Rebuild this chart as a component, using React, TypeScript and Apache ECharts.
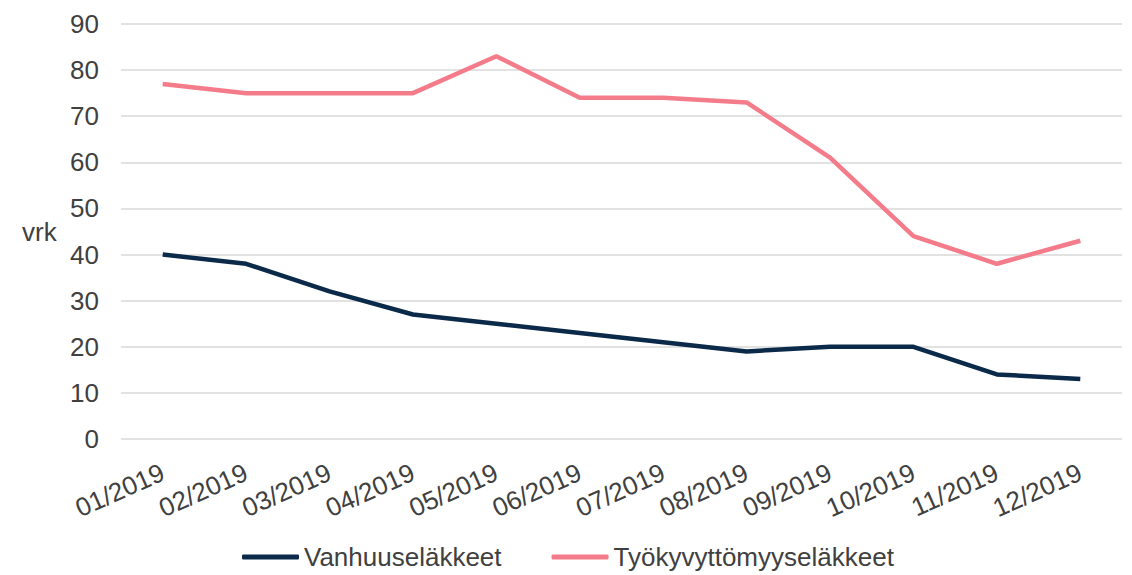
import React, { useEffect, useRef } from "react";
import * as echarts from "echarts";

const categories = ["01/2019", "02/2019", "03/2019", "04/2019", "05/2019", "06/2019", "07/2019", "08/2019", "09/2019", "10/2019", "11/2019", "12/2019"];
const vanhuus = [40, 38, 32, 27, 25, 23, 21, 19, 20, 20, 14, 13];
const tyokyvyttomyys = [77, 75, 75, 75, 83, 74, 74, 73, 61, 44, 38, 43];
const yTicks = { min: 0, max: 90, interval: 10 };

export default function App() {
  const ref = useRef<HTMLDivElement>(null);
  useEffect(() => {
    const chart = echarts.init(ref.current!, null, { renderer: "svg" });
    const font = "Arial, 'Liberation Sans', sans-serif";
    chart.setOption({
      animation: false,
      grid: { left: 121, top: 24, width: 1001, height: 415 },
      textStyle: { fontFamily: font },
      xAxis: {
        type: "category",
        data: categories,
        boundaryGap: true,
        axisLine: { show: false },
        axisTick: { show: false },
        axisLabel: { rotate: 24, color: "#404040", fontSize: 26, fontFamily: font, margin: 32, interval: 0 },
      },
      yAxis: {
        type: "value",
        min: yTicks.min,
        max: yTicks.max,
        interval: yTicks.interval,
        axisLine: { show: false },
        axisTick: { show: false },
        axisLabel: { color: "#404040", fontSize: 26, fontFamily: font, margin: 22 },
        splitLine: { lineStyle: { color: "#d9d9d9", width: 1.5 } },
      },
      legend: {
        top: 543,
        left: 242,
        padding: 0,
        itemWidth: 57,
        itemHeight: 5,
        itemGap: 50,
        itemTextGap: 4,
        icon: "roundRect",
        textStyle: { color: "#404040", fontSize: 26, lineHeight: 28, fontFamily: font },
        data: ["Vanhuuseläkkeet", "Työkyvyttömyyseläkkeet"],
      },
      graphic: [
        { type: "text", left: 22, top: 219, style: { text: "vrk", fontSize: 26, fill: "#404040", fontFamily: font } },
      ],
      series: [
        {
          name: "Vanhuuseläkkeet",
          type: "line",
          data: vanhuus,
          showSymbol: false,
          symbol: "none",
          lineStyle: { color: "#0b2a4a", width: 4.5 },
          itemStyle: { color: "#0b2a4a" },
        },
        {
          name: "Työkyvyttömyyseläkkeet",
          type: "line",
          data: tyokyvyttomyys,
          showSymbol: false,
          symbol: "none",
          lineStyle: { color: "#f47c8a", width: 4.5 },
          itemStyle: { color: "#f47c8a" },
        },
      ],
    });
    return () => chart.dispose();
  }, []);
  return <div ref={ref} style={{ width: 1132, height: 575, position: "absolute", left: 0, top: 0 }} />;
}
